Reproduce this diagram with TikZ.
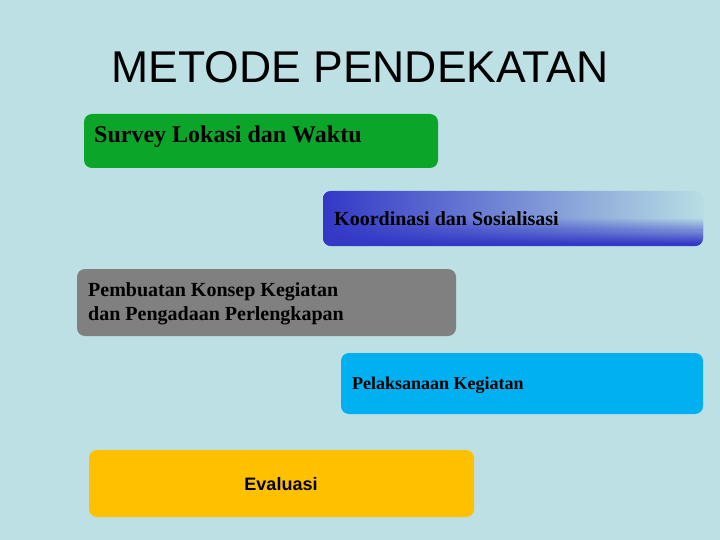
\documentclass[tikz,border=0pt]{standalone}
\usepackage{fontspec}
\setmainfont{Liberation Serif}
\setsansfont{Liberation Sans}
\definecolor{bg}{HTML}{BDE0E4}
\definecolor{cgreen}{HTML}{0BA52A}
\definecolor{cblueA}{HTML}{3338C6}
\definecolor{cblueB}{HTML}{B8DEE4}
\definecolor{cgray}{HTML}{808080}
\definecolor{ccyan}{HTML}{00B0F0}
\definecolor{cyellow}{HTML}{FFC000}
\begin{document}
\begin{tikzpicture}[x=1pt,y=-1pt,
  boxstyle/.style={rounded corners=8pt,draw=none},
  lbl/.style={anchor=west,font=\bfseries\fontsize{#1}{#1}\selectfont,inner sep=0pt,align=left}]
\useasboundingbox (0,0) rectangle (720,540);
\fill[bg] (0,0) rectangle (720,540);
\node[font=\sffamily\fontsize{44.5}{44.5}\selectfont,inner sep=0pt] (title) at (360,67) {METODE PENDEKATAN};
% box 1
\fill[boxstyle,cgreen] (84,114) rectangle (438,168);
\node[lbl=24] (t1) at (94,137) {Survey Lokasi dan Waktu};
% box 2
\begin{scope}
\clip[rounded corners=8pt] (323,191) rectangle (703,246);
\foreach \r in {0,...,54}{
  \pgfmathsetmacro{\f}{\r/55}
  \pgfmathsetmacro{\p}{\f<0.5 ? 100 : max(0,100*(1-(\f-0.5)/0.45))}
  \colorlet{rc}{cblueB!\p!cblueA}
  \shade[left color=cblueA,right color=rc,shading angle=90,shading=axis] (323,191+\r) rectangle (703,192.2+\r);
}
\end{scope}
\node[lbl=20] (t2) at (334,219) {Koordinasi dan Sosialisasi};
% box 3
\fill[boxstyle,cgray] (77,269) rectangle (456,336);
\node[lbl=20] (t3) at (88,304) {Pembuatan Konsep Kegiatan\\[4pt]dan Pengadaan Perlengkapan};
% box 4
\fill[boxstyle,ccyan] (341,353) rectangle (703,414);
\node[lbl=18] (t4) at (352,385) {Pelaksanaan Kegiatan};
% box 5
\fill[boxstyle,cyellow] (89,450) rectangle (474,517);
\node[font=\sffamily\bfseries\fontsize{18}{18}\selectfont,inner sep=0pt] (t5) at (281,484) {Evaluasi};
\end{tikzpicture}
\end{document}
